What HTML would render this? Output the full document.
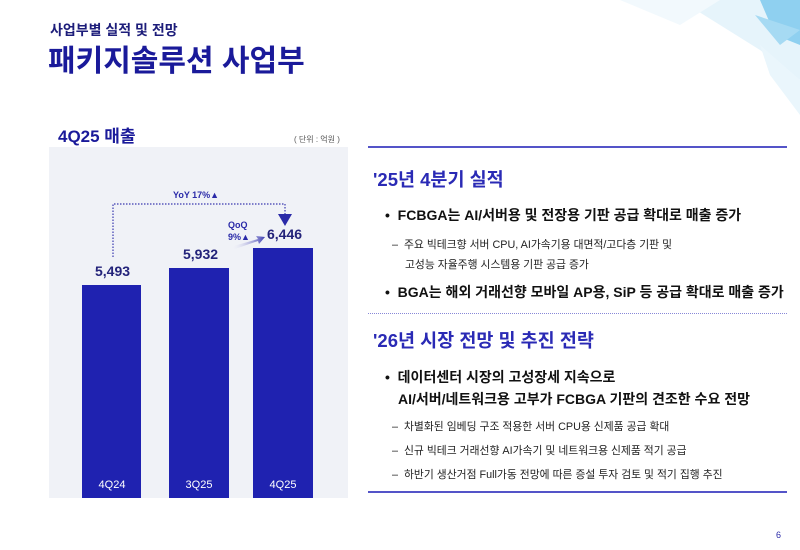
<!DOCTYPE html>
<html><head><meta charset="utf-8"><style>
body{margin:0;width:800px;height:550px;background:#fff;position:relative;overflow:hidden;font-family:"Liberation Sans","Noto Sans CJK KR",sans-serif}
.a{position:absolute;white-space:nowrap}
.h{color:#2a2ab5;font-weight:bold;font-size:18.5px}
.b{color:#111;font-weight:bold;font-size:14px}
.s{color:#222;font-size:10.8px}
.bar{position:absolute;background:#1f22b0}
.bl{position:absolute;color:#fff;font-size:11px;width:60px;text-align:center;top:479px}
.v{position:absolute;color:#23237a;font-weight:bold;font-size:14px}
</style></head><body>
<svg class="a" style="left:560px;top:0" width="240" height="130">
<polygon points="120,0 240,0 240,80 200,50" fill="#e6f4fb"/>
<polygon points="200,0 240,0 240,45 215,35" fill="#8fd0f0"/>
<polygon points="195,15 240,30 220,45" fill="#a6daf3"/>
<polygon points="60,0 160,0 120,25" fill="#f2f9fd"/>
<polygon points="200,45 240,80 240,115 210,75" fill="#eaf6fc"/>
</svg>
<div class="a" style="left:50px;top:20px;font-size:14px;color:#1d1d7a;font-weight:bold">사업부별 실적 및 전망</div>
<div class="a" style="left:48px;top:36px;font-size:30px;color:#1a1a9a;font-weight:bold">패키지솔루션 사업부</div>
<div class="a" style="left:58px;top:122px;font-size:17px;color:#1a1a9a;font-weight:bold">4Q25 매출</div>
<div class="a" style="left:294px;top:134px;font-size:8px;color:#555">( 단위 : 억원 )</div>
<div class="a" style="left:49px;top:147px;width:299px;height:351px;background:#f0f2f7"></div>
<div class="bar" style="left:82px;top:285px;width:59px;height:213px"></div>
<div class="bar" style="left:169px;top:268px;width:60px;height:230px"></div>
<div class="bar" style="left:253px;top:248px;width:60px;height:250px"></div>
<div class="bl" style="left:82px">4Q24</div>
<div class="bl" style="left:169px">3Q25</div>
<div class="bl" style="left:253px">4Q25</div>
<div class="v" style="left:95px;top:263px">5,493</div>
<div class="v" style="left:183px;top:246px">5,932</div>
<div class="v" style="left:267px;top:226px">6,446</div>
<svg class="a" style="left:49px;top:180px" width="300" height="80">
<polyline points="64,77 64,24 236,24 236,34" fill="none" stroke="#3a3ab0" stroke-width="1.2" stroke-dasharray="1.5,1.5"/>
<polygon points="229,34 243,34 236,46" fill="#2a2aa8"/>
<defs><linearGradient id="g"><stop offset="0" stop-color="#fff" stop-opacity="0"/><stop offset="1" stop-color="#3a3ab0"/></linearGradient></defs>
<polygon points="181,67 209,59 207,56 216,57 210,64 209,61 183,70" fill="url(#g)"/>
</svg>
<div class="a" style="left:173px;top:190px;font-size:9px;color:#2a2aa8;font-weight:bold">YoY 17%▲</div>
<div class="a" style="left:228px;top:219px;font-size:9px;color:#2a2aa8;font-weight:bold;line-height:12px">QoQ<br>9%▲</div>
<div class="a" style="left:368px;top:146px;width:419px;height:2px;background:#5454c8"></div>
<div class="a h" style="left:373px;top:166px">'25년 4분기 실적</div>
<div class="a b" style="left:385px;top:205px">• &nbsp;FCBGA는 AI/서버용 및 전장용 기판 공급 확대로 매출 증가</div>
<div class="a s" style="left:392px;top:236px">–&nbsp; 주요 빅테크향 서버 CPU, AI가속기용 대면적/고다층 기판 및</div>
<div class="a s" style="left:405px;top:256px">고성능 자율주행 시스템용 기판 공급 증가</div>
<div class="a b" style="left:385px;top:282px">• &nbsp;BGA는 해외 거래선향 모바일 AP용, SiP 등 공급 확대로 매출 증가</div>
<div class="a" style="left:368px;top:313px;width:419px;border-top:1px dotted #8888d8"></div>
<div class="a h" style="left:373px;top:327px">'26년 시장 전망 및 추진 전략</div>
<div class="a b" style="left:385px;top:367px">• &nbsp;데이터센터 시장의 고성장세 지속으로</div>
<div class="a b" style="left:398px;top:389px">AI/서버/네트워크용 고부가 FCBGA 기판의 견조한 수요 전망</div>
<div class="a s" style="left:392px;top:418px">–&nbsp; 차별화된 임베딩 구조 적용한 서버 CPU용 신제품 공급 확대</div>
<div class="a s" style="left:392px;top:442px">–&nbsp; 신규 빅테크 거래선향 AI가속기 및 네트워크용 신제품 적기 공급</div>
<div class="a s" style="left:392px;top:466px">–&nbsp; 하반기 생산거점 Full가동 전망에 따른 증설 투자 검토 및 적기 집행 추진</div>
<div class="a" style="left:368px;top:491px;width:419px;height:2px;background:#5454c8"></div>
<div class="a" style="left:776px;top:530px;font-size:9px;color:#2a2aa8">6</div>
</body></html>
